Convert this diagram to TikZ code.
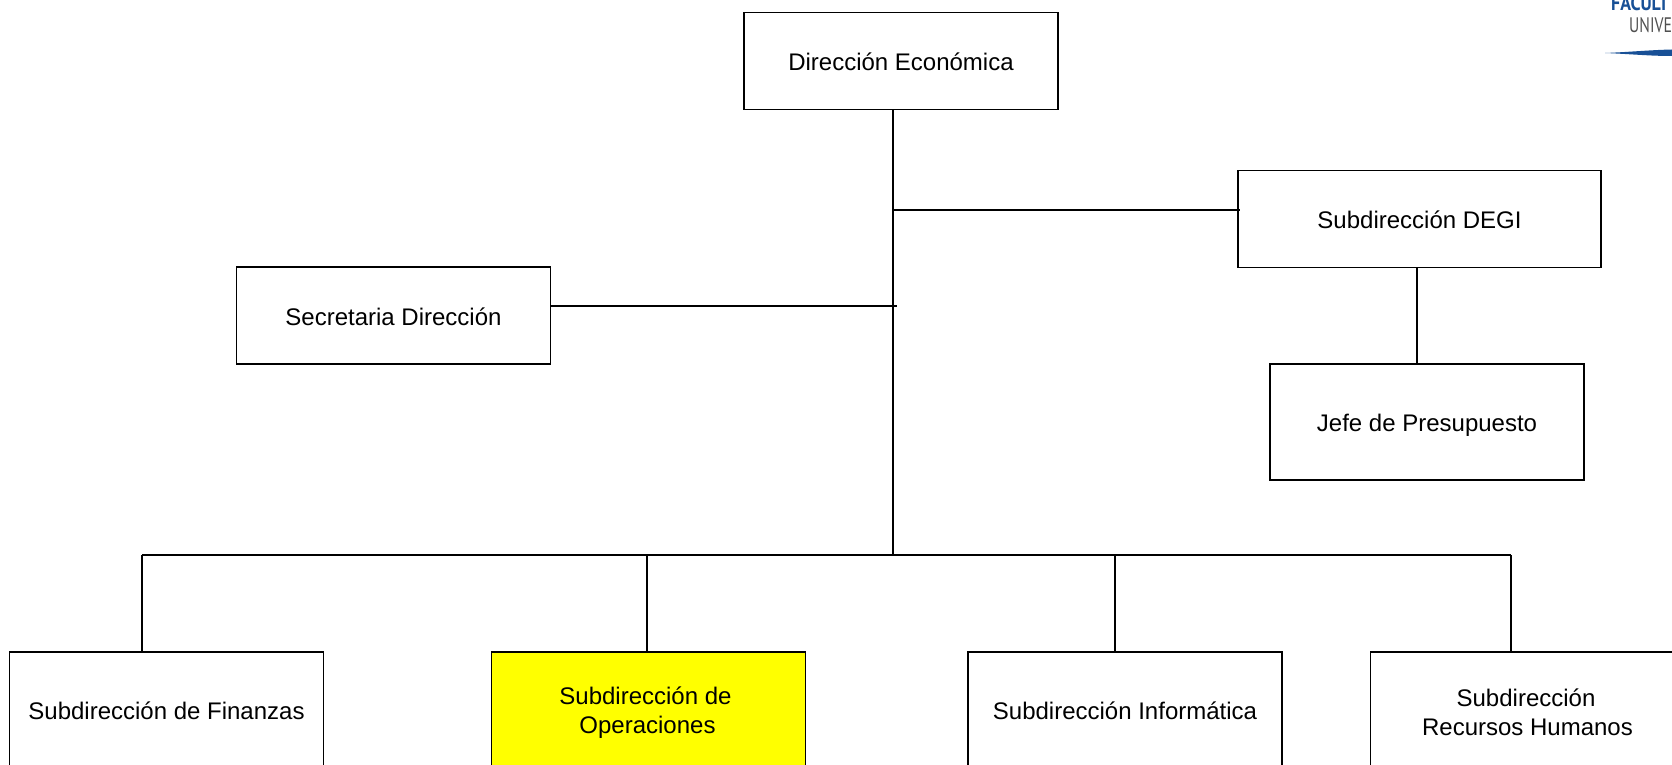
\documentclass[tikz,border=0pt]{standalone}
\usepackage{fontspec}
\setmainfont{Liberation Sans}
\newfontfamily\logofont{PT Sans}
\definecolor{logoblue}{RGB}{24,80,150}
\definecolor{logogrey}{RGB}{80,80,80}
\definecolor{hiyellow}{RGB}{255,255,0}
\newcommand\lowertxt[2]{\raisebox{-#1}[\height][\depth]{#2}}
\tikzset{
  orgbox/.style={draw=black,line width=1.8pt,fill=white,inner sep=0pt,align=center,font=\fontsize{24}{29}\selectfont},
  orgline/.style={draw=black,line width=2pt},
}
\begin{document}
\begin{tikzpicture}[x=1pt,y=-1pt]
\useasboundingbox (0,0) rectangle (1672,765);
\clip (0,0) rectangle (1672,765);
% logo
\node[anchor=base west,inner sep=0pt,text=logoblue,xscale=.85,font=\logofont\bfseries\fontsize{21}{21}\selectfont] (logoa) at (1611,11) {FACULT};
\node[anchor=base west,inner sep=0pt,text=logogrey,xscale=.75,font=\logofont\fontsize{21}{21}\selectfont] (logob) at (1629,33) {UNIVE};
\fill[logoblue] (1605,53) .. controls (1630,52) and (1650,50) .. (1672,49.5) -- (1672,56) .. controls (1650,56) and (1630,54) .. (1605,53) -- cycle;
% boxes
\node[orgbox,minimum width=314pt,minimum height=97pt] (dir) at (901,61) {\lowertxt{1pt}{Dirección Económica}};
\node[orgbox,minimum width=363pt,minimum height=97pt] (degi) at (1419.5,219) {\lowertxt{1pt}{Subdirección DEGI}};
\node[orgbox,minimum width=314pt,minimum height=97pt] (sec) at (393.5,315.5) {\lowertxt{1pt}{Secretaria Dirección}};
\node[orgbox,minimum width=314pt,minimum height=116pt] (jefe) at (1427,422) {\lowertxt{3pt}{Jefe de Presupuesto}};
\node[orgbox,minimum width=314pt,minimum height=118pt] (fin) at (166.5,711) {Subdirección de Finanzas};
\node[orgbox,fill=hiyellow,minimum width=314pt,minimum height=118pt] (ope) at (648.5,711) {\lowertxt{2pt}{Subdirección de\kern6pt}\\\lowertxt{2pt}{Operaciones\kern2pt}};
\node[orgbox,minimum width=314pt,minimum height=118pt] (inf) at (1125,711) {Subdirección Informática};
\node[orgbox,minimum width=314pt,minimum height=118pt] (rh) at (1527.5,711) {\lowertxt{1pt}{Subdirección\kern3pt}\\\lowertxt{1pt}{Recursos Humanos}};
% junctions
\coordinate (trunktop) at (892.6,110);
\coordinate (trunkbot) at (892.6,555);
\coordinate (jdegi) at (892.6,210);
\coordinate (jsec) at (897,306);
\coordinate (busl) at (142,555);
\coordinate (busr) at (1511,555);
\coordinate (dope) at (647.4,555);
\coordinate (dinf) at (1115,555);
\coordinate (xjefe) at (1417.4,0);
% connectors
\draw[orgline] (trunktop) -- (trunkbot);
\draw[orgline] (jdegi) -- (jdegi -| degi.west) -- ++(3,0);
\draw[orgline] (sec.east |- jsec) -- (jsec);
\draw[orgline] (xjefe |- degi.south) -- (xjefe |- jefe.north);
\draw[orgline,line cap=square] (busl) -- (busr);
\draw[orgline] (busl) -- (busl |- fin.north);
\draw[orgline] (dope) -- (dope |- ope.north);
\draw[orgline] (dinf) -- (dinf |- inf.north);
\draw[orgline,line width=1.2pt] (busr) -- (busr |- rh.north);
\end{tikzpicture}
\end{document}
